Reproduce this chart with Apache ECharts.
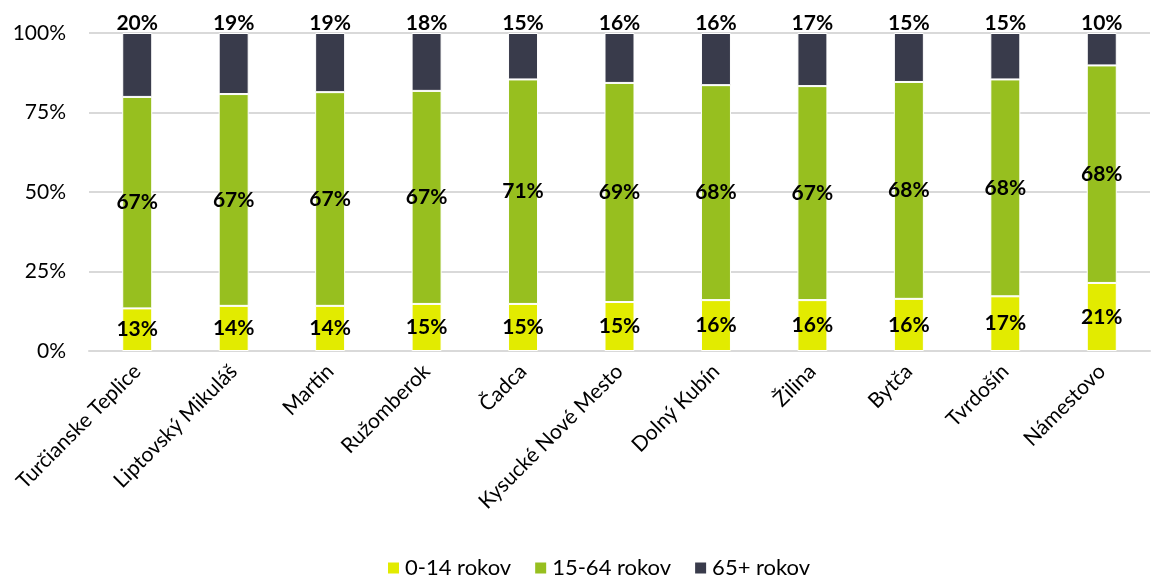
<!DOCTYPE html>
<html>
<head>
<meta charset="utf-8">
<script src="https://cdn.jsdelivr.net/npm/echarts@6/dist/echarts.min.js"></script>
<style>html,body{margin:0;padding:0;background:#fff}#c{width:1153px;height:579px}</style>
</head>
<body>
<div id="c"></div>
<script>
const categories = ['Turčianske Teplice','Liptovský Mikuláš','Martin','Ružomberok','Čadca','Kysucké Nové Mesto','Dolný Kubín','Žilina','Bytča','Tvrdošín','Námestovo'];
const seriesNames = ['0-14 rokov','15-64 rokov','65+ rokov'];
const age0_14 = [13.4,14.2,14.2,14.8,14.8,15.4,16.0,16.0,16.4,17.2,21.4];
const age15_64 = [66.5,66.6,67.2,67.0,70.6,68.9,67.6,67.3,68.2,68.2,68.4];
const age65plus = [20.1,19.2,18.6,18.2,14.6,15.7,16.4,16.7,15.4,14.6,10.2];
const yTicks = [0,25,50,75,100];
const colors = ['#E2EB00','#97BF1F','#393B4B'];
const FONT = 'Lato';

const chart = echarts.init(document.getElementById('c'));
const lbl = (pos, dist) => ({
  show: true, position: pos, distance: dist,
  formatter: p => Math.round(p.value) + '%',
  fontFamily: FONT, fontWeight: 'bold', fontSize: 21, color: '#000'
});
const mk = (name, data, i, label) => ({
  name, type: 'bar', stack: 'total', data, barWidth: 30,
  itemStyle: { color: colors[i], borderColor: '#fff', borderWidth: 1 },
  label
});
chart.setOption({
  animation: false,
  textStyle: { fontFamily: FONT },
  grid: { left: 89, right: 3, top: 33, bottom: 228 },
  legend: {
    bottom: -5, left: 381, itemWidth: 13, itemHeight: 13, itemGap: 22,
    icon: 'rect',
    textStyle: { fontFamily: FONT, fontSize: 22, color: '#000' },
    data: seriesNames
  },
  xAxis: {
    type: 'category', data: categories,
    axisLine: { lineStyle: { color: '#d9d9d9', width: 2 } },
    axisTick: { show: false },
    axisLabel: { rotate: 45, interval: 0, fontFamily: FONT, fontSize: 21, color: '#000', margin: 17 }
  },
  yAxis: {
    type: 'value', min: 0, max: 100, interval: 25,
    axisLine: { show: false }, axisTick: { show: false },
    splitLine: { lineStyle: { color: '#d9d9d9', width: 2 } },
    axisLabel: { formatter: v => yTicks.includes(v) ? v + '%' : '', fontFamily: FONT, fontSize: 21, color: '#000', margin: 23 }
  },
  series: [
    mk(seriesNames[0], age0_14, 0, lbl('inside', 0)),
    mk(seriesNames[1], age15_64, 1, lbl('inside', 0)),
    mk(seriesNames[2], age65plus, 2, lbl('top', -1))
  ]
});
</script>
</body>
</html>
